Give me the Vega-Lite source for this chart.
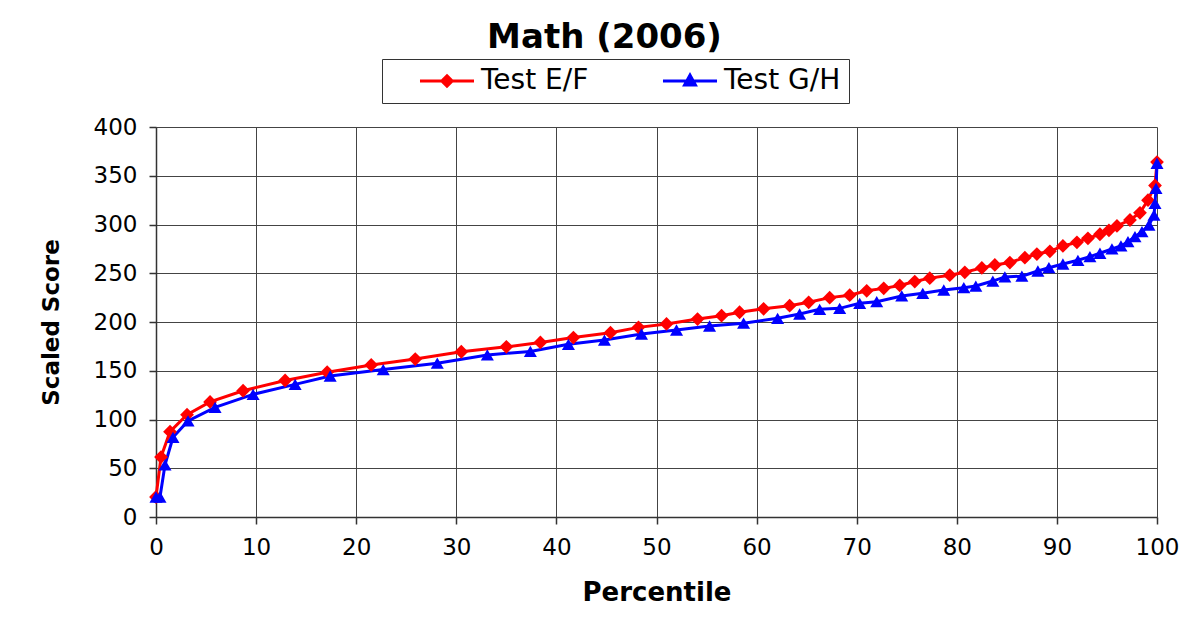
{
  "$schema": "https://vega.github.io/schema/vega-lite/v6.json",
  "autosize": {"type": "none"},
  "padding": {"left": 156, "top": 127, "right": 47, "bottom": 103},
  "width": 1001,
  "height": 390,
  "background": "white",
  "title": {
    "text": "Math (2006)",
    "font": "DejaVu Sans",
    "fontSize": 34,
    "fontWeight": "bold",
    "color": "black",
    "anchor": "middle",
    "dx": -52,
    "offset": 4
  },
  "config": {
    "view": {"stroke": null},
    "axis": {
      "labelFont": "DejaVu Sans",
      "labelFontSize": 23,
      "labelColor": "black",
      "titleFont": "DejaVu Sans",
      "titleFontWeight": "bold",
      "titleColor": "black",
      "domainColor": "#333333",
      "domainWidth": 1.5,
      "tickColor": "#333333",
      "tickWidth": 1.5,
      "tickSize": 7,
      "gridColor": "#444444",
      "gridWidth": 1,
      "gridOpacity": 1
    }
  },
  "data": {
    "values": [
      {"p": 0, "score": 20.5, "series": "Test E/F"},
      {"p": 0.5, "score": 61.5, "series": "Test E/F"},
      {"p": 1.4, "score": 87.5, "series": "Test E/F"},
      {"p": 3.1, "score": 105, "series": "Test E/F"},
      {"p": 5.4, "score": 118, "series": "Test E/F"},
      {"p": 8.7, "score": 129.5, "series": "Test E/F"},
      {"p": 12.9, "score": 140, "series": "Test E/F"},
      {"p": 17.1, "score": 148.5, "series": "Test E/F"},
      {"p": 21.5, "score": 156, "series": "Test E/F"},
      {"p": 25.9, "score": 162, "series": "Test E/F"},
      {"p": 30.5, "score": 169.5, "series": "Test E/F"},
      {"p": 35, "score": 174.5, "series": "Test E/F"},
      {"p": 38.4, "score": 179, "series": "Test E/F"},
      {"p": 41.7, "score": 184, "series": "Test E/F"},
      {"p": 45.4, "score": 189, "series": "Test E/F"},
      {"p": 48.2, "score": 194.5, "series": "Test E/F"},
      {"p": 51, "score": 198, "series": "Test E/F"},
      {"p": 54.1, "score": 203, "series": "Test E/F"},
      {"p": 56.5, "score": 206.5, "series": "Test E/F"},
      {"p": 58.3, "score": 210, "series": "Test E/F"},
      {"p": 60.7, "score": 213.5, "series": "Test E/F"},
      {"p": 63.3, "score": 216.7, "series": "Test E/F"},
      {"p": 65.2, "score": 220.2, "series": "Test E/F"},
      {"p": 67.3, "score": 225, "series": "Test E/F"},
      {"p": 69.3, "score": 227.5, "series": "Test E/F"},
      {"p": 71, "score": 232, "series": "Test E/F"},
      {"p": 72.7, "score": 234.5, "series": "Test E/F"},
      {"p": 74.3, "score": 237.5, "series": "Test E/F"},
      {"p": 75.8, "score": 241.5, "series": "Test E/F"},
      {"p": 77.3, "score": 245, "series": "Test E/F"},
      {"p": 79.3, "score": 248, "series": "Test E/F"},
      {"p": 80.8, "score": 251, "series": "Test E/F"},
      {"p": 82.5, "score": 255.5, "series": "Test E/F"},
      {"p": 83.8, "score": 258.5, "series": "Test E/F"},
      {"p": 85.3, "score": 261, "series": "Test E/F"},
      {"p": 86.8, "score": 266, "series": "Test E/F"},
      {"p": 88, "score": 269.7, "series": "Test E/F"},
      {"p": 89.3, "score": 272.5, "series": "Test E/F"},
      {"p": 90.6, "score": 278, "series": "Test E/F"},
      {"p": 92, "score": 281.7, "series": "Test E/F"},
      {"p": 93.1, "score": 285.8, "series": "Test E/F"},
      {"p": 94.3, "score": 290, "series": "Test E/F"},
      {"p": 95.2, "score": 294, "series": "Test E/F"},
      {"p": 96, "score": 298.5, "series": "Test E/F"},
      {"p": 97.3, "score": 304.6, "series": "Test E/F"},
      {"p": 98.3, "score": 312, "series": "Test E/F"},
      {"p": 99.1, "score": 325, "series": "Test E/F"},
      {"p": 99.8, "score": 340, "series": "Test E/F"},
      {"p": 100, "score": 364, "series": "Test E/F"},
      {"p": 0, "score": 20.5, "series": "Test G/H"},
      {"p": 0.4, "score": 20.5, "series": "Test G/H"},
      {"p": 0.9, "score": 53.5, "series": "Test G/H"},
      {"p": 1.7, "score": 81.7, "series": "Test G/H"},
      {"p": 3.2, "score": 98.5, "series": "Test G/H"},
      {"p": 5.9, "score": 112.5, "series": "Test G/H"},
      {"p": 9.7, "score": 125.8, "series": "Test G/H"},
      {"p": 13.9, "score": 136, "series": "Test G/H"},
      {"p": 17.4, "score": 144.6, "series": "Test G/H"},
      {"p": 22.7, "score": 151.2, "series": "Test G/H"},
      {"p": 28.1, "score": 157.8, "series": "Test G/H"},
      {"p": 33.1, "score": 166.2, "series": "Test G/H"},
      {"p": 37.4, "score": 169.8, "series": "Test G/H"},
      {"p": 41.2, "score": 177.1, "series": "Test G/H"},
      {"p": 44.8, "score": 181.5, "series": "Test G/H"},
      {"p": 48.5, "score": 187.7, "series": "Test G/H"},
      {"p": 52, "score": 191.8, "series": "Test G/H"},
      {"p": 55.3, "score": 195.9, "series": "Test G/H"},
      {"p": 58.7, "score": 198.8, "series": "Test G/H"},
      {"p": 62.1, "score": 203.8, "series": "Test G/H"},
      {"p": 64.3, "score": 208.2, "series": "Test G/H"},
      {"p": 66.3, "score": 213, "series": "Test G/H"},
      {"p": 68.3, "score": 214, "series": "Test G/H"},
      {"p": 70.3, "score": 219.2, "series": "Test G/H"},
      {"p": 72, "score": 220.8, "series": "Test G/H"},
      {"p": 74.5, "score": 226.7, "series": "Test G/H"},
      {"p": 76.6, "score": 229.4, "series": "Test G/H"},
      {"p": 78.7, "score": 232.8, "series": "Test G/H"},
      {"p": 80.7, "score": 235.2, "series": "Test G/H"},
      {"p": 81.9, "score": 236.9, "series": "Test G/H"},
      {"p": 83.6, "score": 242, "series": "Test G/H"},
      {"p": 84.8, "score": 246.2, "series": "Test G/H"},
      {"p": 86.5, "score": 247, "series": "Test G/H"},
      {"p": 88.1, "score": 252.3, "series": "Test G/H"},
      {"p": 89.2, "score": 255.7, "series": "Test G/H"},
      {"p": 90.6, "score": 259.5, "series": "Test G/H"},
      {"p": 92.1, "score": 263.3, "series": "Test G/H"},
      {"p": 93.3, "score": 267, "series": "Test G/H"},
      {"p": 94.3, "score": 270.5, "series": "Test G/H"},
      {"p": 95.5, "score": 274.9, "series": "Test G/H"},
      {"p": 96.4, "score": 278, "series": "Test G/H"},
      {"p": 97.1, "score": 282.4, "series": "Test G/H"},
      {"p": 97.8, "score": 287.5, "series": "Test G/H"},
      {"p": 98.5, "score": 292.6, "series": "Test G/H"},
      {"p": 99.2, "score": 299.5, "series": "Test G/H"},
      {"p": 99.7, "score": 309.7, "series": "Test G/H"},
      {"p": 99.8, "score": 321.7, "series": "Test G/H"},
      {"p": 99.9, "score": 337, "series": "Test G/H"},
      {"p": 100, "score": 362.8, "series": "Test G/H"}
    ]
  },
  "encoding": {
    "x": {
      "field": "p",
      "type": "quantitative",
      "scale": {"domain": [0, 100], "nice": false, "zero": false},
      "axis": {
        "title": "Percentile",
        "titleFontSize": 26,
        "titlePadding": 20,
        "values": [0, 10, 20, 30, 40, 50, 60, 70, 80, 90, 100],
        "labelPadding": 12,
        "labelFlush": false
      }
    },
    "y": {
      "field": "score",
      "type": "quantitative",
      "scale": {"domain": [0, 400], "nice": false},
      "axis": {
        "title": "Scaled Score",
        "titleFontSize": 23,
        "titlePadding": 30,
        "values": [0, 50, 100, 150, 200, 250, 300, 350, 400],
        "labelPadding": 12
      }
    },
    "color": {
      "field": "series",
      "type": "nominal",
      "scale": {"domain": ["Test E/F", "Test G/H"], "range": ["#FF0000", "#0000FF"]},
      "legend": {
        "title": null,
        "orient": "none",
        "legendX": 226,
        "legendY": -68,
        "direction": "horizontal",
        "columns": 2,
        "padding": 8,
        "strokeColor": "#333333",
        "fillColor": "white",
        "labelFont": "DejaVu Sans",
        "labelFontSize": 28,
        "labelColor": "black",
        "labelOffset": 20,
        "columnPadding": 44,
        "symbolSize": 467,
        "symbolOffset": 43,
        "symbolStrokeWidth": 3,
        "symbolType": "M-2.5,0H2.5",
        "encode": {
          "symbols": {
            "update": {
              "shape": {"signal": "datum.value === 'Test E/F' ? 'M-2.5,0H2.5M0,-0.48L0.48,0L0,0.48L-0.48,0Z' : 'M-2.5,0H2.5M-0.5,0.36L0,-0.55L0.5,0.36Z'"},
              "fill": {"scale": "color", "field": "value"},
              "stroke": {"scale": "color", "field": "value"},
              "strokeWidth": {"value": 3},
              "size": {"value": 467},
              "opacity": {"value": 1}
            }
          }
        }
      }
    }
  },
  "layer": [
    {
      "mark": {"type": "line", "strokeWidth": 3}
    },
    {
      "transform": [{"filter": "datum.series === 'Test E/F'"}],
      "mark": {"type": "point", "filled": true, "opacity": 1, "shape": "diamond", "size": 190}
    },
    {
      "transform": [{"filter": "datum.series === 'Test G/H'"}],
      "mark": {"type": "point", "filled": true, "opacity": 1, "shape": "triangle-up", "size": 170}
    }
  ]
}
